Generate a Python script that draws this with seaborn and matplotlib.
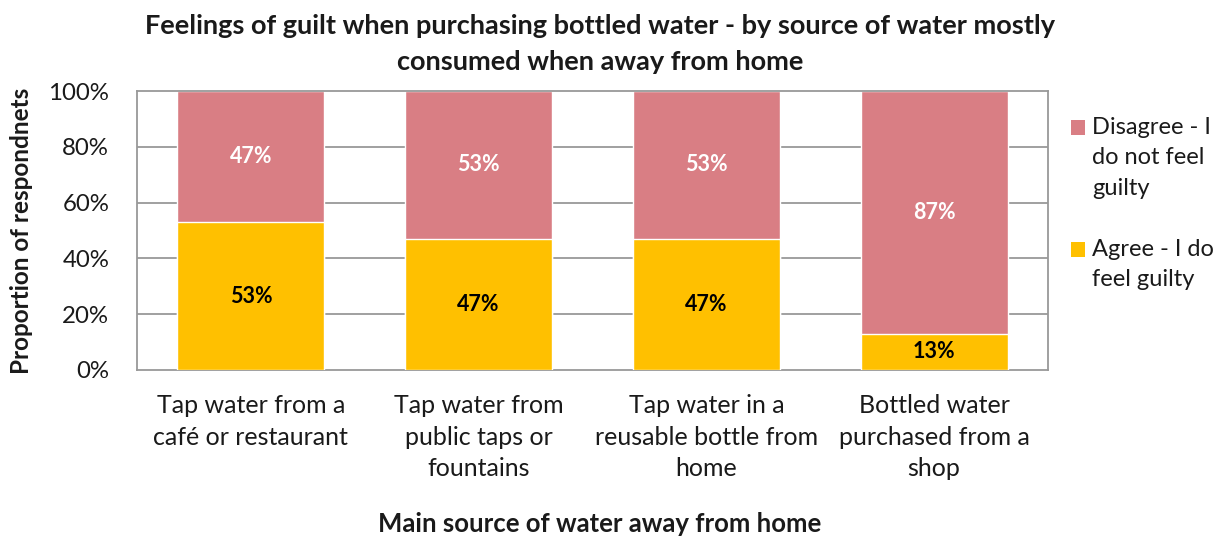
import matplotlib
matplotlib.use("Agg")
import matplotlib.pyplot as plt
import seaborn as sns
import pandas as pd
from matplotlib.patches import Patch, Rectangle
from matplotlib.legend_handler import HandlerPatch

categories = [
    "Tap water from a\ncafé or restaurant",
    "Tap water from\npublic taps or\nfountains",
    "Tap water in a\nreusable bottle from\nhome",
    "Bottled water\npurchased from a\nshop",
]
agree = [53, 47, 47, 13]
disagree = [47, 53, 53, 87]
series_names = ["Disagree - I\ndo not feel\nguilty", "Agree - I do\nfeel guilty"]
yticks = [0, 20, 40, 60, 80, 100]

PINK = "#D97E84"
GOLD = "#FFC000"
TEXT = "#1a1a1a"

sns.set_theme(style="white")
plt.rcParams["font.family"] = ["Lato", "DejaVu Sans"]

df = pd.DataFrame({
    "cat": categories,
    "agree": agree,
    "total": [a + d for a, d in zip(agree, disagree)],
})

fig, ax = plt.subplots(figsize=(12.26, 5.37), dpi=100)
fig.subplots_adjust(left=137/1226, right=1048/1226, top=1-91/537, bottom=1-370/537)

for y in yticks[1:-1]:
    ax.axhline(y, color="#999999", lw=1.3, zorder=0)

sns.barplot(data=df, x="cat", y="total", color=PINK, width=0.645,
            saturation=1, ax=ax, zorder=2)
sns.barplot(data=df, x="cat", y="agree", color=GOLD, width=0.645,
            saturation=1, ax=ax, zorder=3)

for i, (a, d) in enumerate(zip(agree, disagree)):
    ax.text(i, a / 2, f"{a}%", ha="center", va="center", fontsize=15.5,
            fontweight="bold", color="black", zorder=4)
    ax.text(i, a + d / 2, f"{d}%", ha="center", va="center", fontsize=15.5,
            fontweight="bold", color="white", zorder=4)

ax.set_ylim(0, 100)
ax.set_xlim(-0.5, 3.5)
ax.set_yticks(yticks)
ax.set_yticklabels([f"{v}%" for v in yticks], fontsize=17.3, color=TEXT)
ax.set_xticks(range(len(categories)))
ax.set_xticklabels(categories, fontsize=18, color=TEXT, linespacing=1.47,
                   va="top")
ax.tick_params(axis="x", length=0, pad=17)
ax.tick_params(axis="y", length=0, pad=20)
ax.set_xlabel("")
ax.set_ylabel("Proportion of respondnets", fontsize=17.5, fontweight="bold",
              color=TEXT)
ax.yaxis.set_label_coords(-0.114, 0.5)
for s in ax.spines.values():
    s.set_color("#999999")
    s.set_linewidth(1.3)

fig.text(600/1226, 1-44/537,
         "Feelings of guilt when purchasing bottled water - by source of water mostly\nconsumed when away from home",
         ha="center", va="center", fontsize=19.5, fontweight="bold",
         linespacing=1.55, color=TEXT)
fig.text(600/1226, 1-524/537, "Main source of water away from home",
         ha="center", va="center", fontsize=18.5, fontweight="bold",
         color=TEXT)


class TopLinePatch(HandlerPatch):
    """Square legend key aligned with the first line of a wrapped label."""

    def __init__(self, nlines, **kw):
        self.nlines = nlines
        super().__init__(**kw)

    def create_artists(self, legend, orig_handle, xdescent, ydescent,
                       width, height, fontsize, trans):
        line = fontsize * 1.28
        shift = (self.nlines - 1) / 2 * line
        p = Rectangle((-xdescent, -ydescent + shift), width, height,
                      facecolor=orig_handle.get_facecolor(), edgecolor="none",
                      transform=trans)
        return [p]


handles = [Patch(facecolor=PINK, edgecolor="none"),
           Patch(facecolor=GOLD, edgecolor="none")]
leg = fig.legend(handles, series_names, loc="upper left",
                 bbox_to_anchor=(1071/1226, 1-117/537), frameon=False,
                 fontsize=17, handlelength=0.6, handleheight=0.6,
                 handletextpad=0.3, labelspacing=1.7, borderaxespad=0,
                 borderpad=0,
                 handler_map={handles[0]: TopLinePatch(3),
                              handles[1]: TopLinePatch(2)})
for t in leg.get_texts():
    t.set_linespacing(1.55)
    t.set_color(TEXT)

fig.savefig("out.png", dpi=100)
